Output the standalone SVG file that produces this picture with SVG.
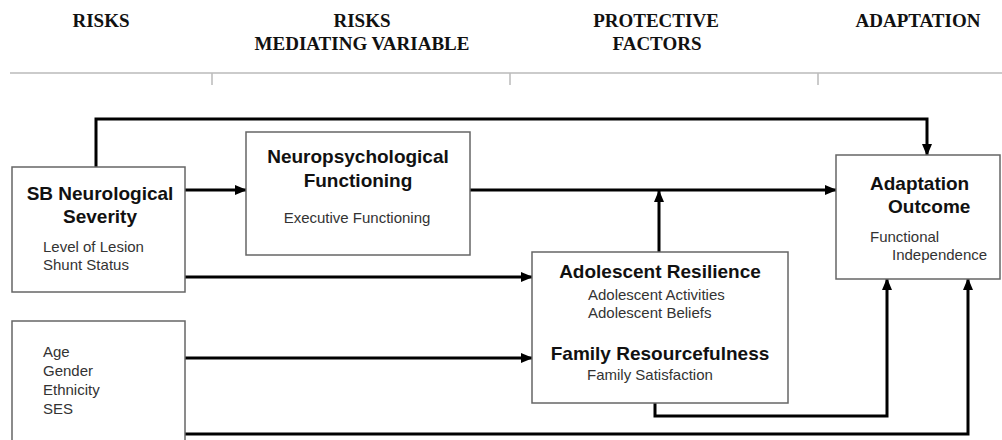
<svg xmlns="http://www.w3.org/2000/svg" width="1002" height="440" viewBox="0 0 1002 440">
<defs>
<style>
.hdr{font-family:"Liberation Serif","Times New Roman",serif;font-weight:bold;font-size:19px;fill:#111;text-anchor:middle}
.box{fill:#fff;stroke:#666;stroke-width:1.5}
.t{font-family:"Liberation Sans",Arial,sans-serif;font-weight:bold;font-size:19px;fill:#111}
.s{font-family:"Liberation Sans",Arial,sans-serif;font-size:15px;fill:#333}
.m{text-anchor:middle}
.c{fill:none;stroke:#000;stroke-width:3;marker-end:url(#ah)}
.rule{stroke:#bbb;stroke-width:1.5;fill:none}
</style>
<marker id="ah" markerUnits="userSpaceOnUse" markerWidth="12" markerHeight="10" refX="11" refY="5" orient="auto">
<path d="M0,0 L12,5 L0,10 z" fill="#000"/>
</marker>
</defs>
<rect width="1002" height="440" fill="#fff"/>
<g id="header">
<text class="hdr" x="101" y="27">RISKS</text>
<text class="hdr" x="362" y="27">RISKS</text>
<text class="hdr" x="362" y="50">MEDIATING VARIABLE</text>
<text class="hdr" x="656" y="27">PROTECTIVE</text>
<text class="hdr" x="657" y="50">FACTORS</text>
<text class="hdr" x="918" y="27">ADAPTATION</text>
<path class="rule" d="M10,73 H1002 M212,73 V85 M510,73 V85 M818,73 V85"/>
</g>
<g id="connectors">
<path class="c" d="M96,167 V119 H927 V155"/>
<path class="c" d="M185,190 H246"/>
<path class="c" d="M470,190 H836"/>
<path class="c" d="M659,252 V191"/>
<path class="c" d="M185,277 H532"/>
<path class="c" d="M185,358 H532"/>
<path class="c" d="M655,403 V416 H887 V279"/>
<path class="c" d="M185,434 H968 V279"/>
</g>
<g id="sb">
<rect class="box" x="12" y="167" width="173" height="125"/>
<text class="t m" x="100" y="200">SB Neurological</text>
<text class="t m" x="100" y="223">Severity</text>
<text class="s" x="43" y="252">Level of Lesion</text>
<text class="s" x="43" y="270">Shunt Status</text>
</g>
<g id="demographics">
<rect class="box" x="12" y="321" width="173" height="130"/>
<text class="s" x="43" y="357">Age</text>
<text class="s" x="43" y="376">Gender</text>
<text class="s" x="43" y="395">Ethnicity</text>
<text class="s" x="43" y="414">SES</text>
</g>
<g id="neuro">
<rect class="box" x="246" y="132" width="224" height="123"/>
<text class="t m" x="358" y="163">Neuropsychological</text>
<text class="t m" x="358" y="187">Functioning</text>
<text class="s m" x="357" y="223">Executive Functioning</text>
</g>
<g id="resilience">
<rect class="box" x="532" y="252" width="256" height="151"/>
<text class="t m" x="660" y="278">Adolescent Resilience</text>
<text class="s" x="588" y="300">Adolescent Activities</text>
<text class="s" x="588" y="318">Adolescent Beliefs</text>
<text class="t m" x="660" y="360">Family Resourcefulness</text>
<text class="s" x="587" y="380">Family Satisfaction</text>
</g>
<g id="outcome">
<rect class="box" x="836" y="155" width="164" height="124"/>
<text class="t" x="870" y="190">Adaptation</text>
<text class="t" x="888" y="213">Outcome</text>
<text class="s" x="870" y="242">Functional</text>
<text class="s" x="892" y="260">Independence</text>
</g>
</svg>
